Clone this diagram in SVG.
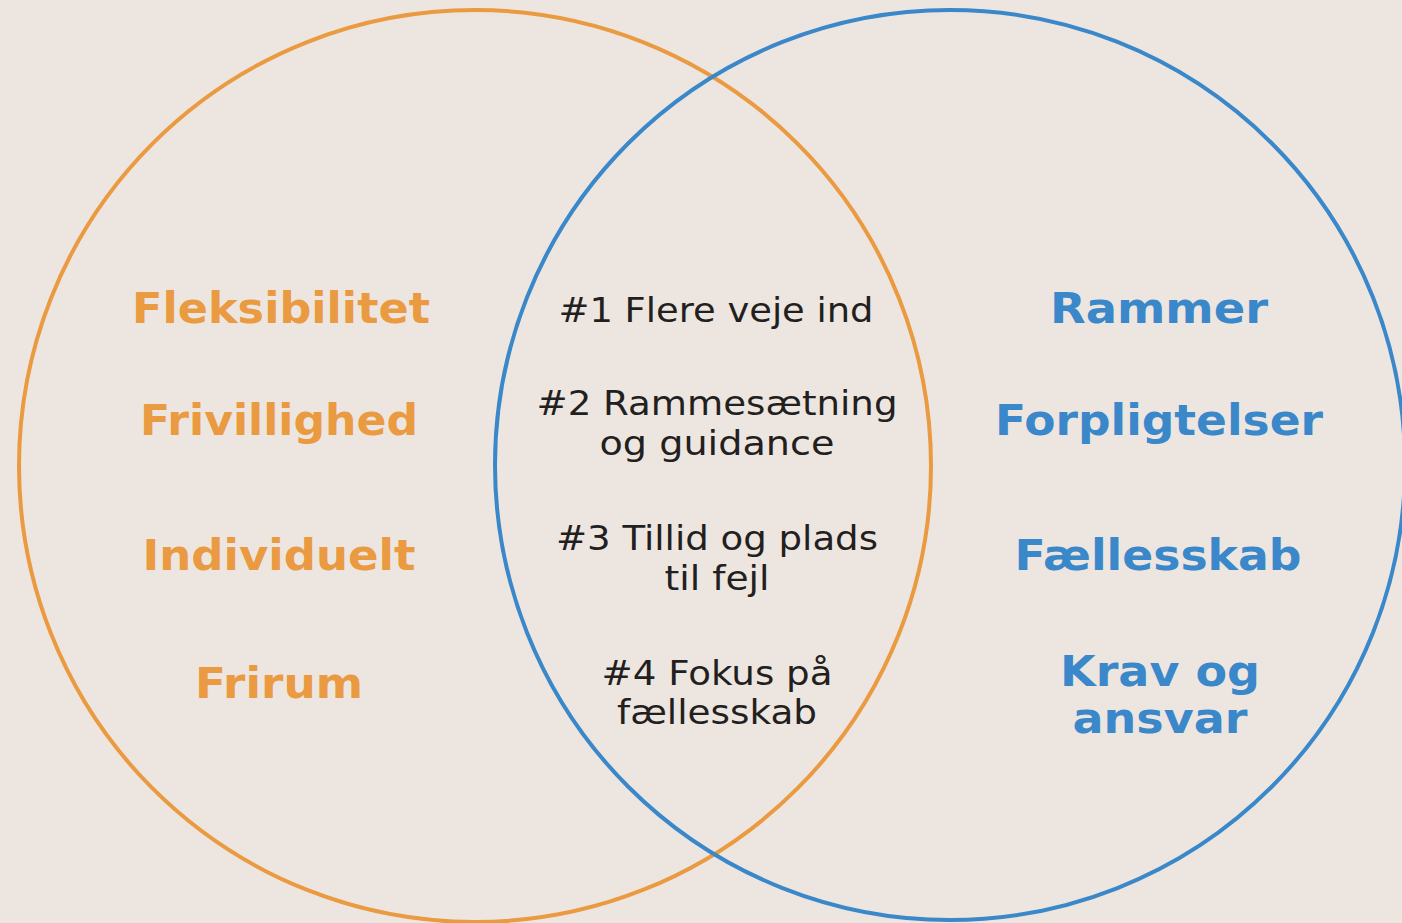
<svg xmlns="http://www.w3.org/2000/svg" width="1402" height="923" viewBox="0 0 1402 923">
<style>
.bg{fill:#EDE6E0}
.ring{fill:none;stroke-width:4}
.or{stroke:#EA9A40}
.bl{stroke:#3A88CA}
.lo{font-family:"DejaVu Sans","Liberation Sans",sans-serif;font-weight:bold;font-size:43px;fill:#EA9A40;text-anchor:middle}
.lb{font-family:"DejaVu Sans","Liberation Sans",sans-serif;font-weight:bold;font-size:43px;fill:#3A88CA;text-anchor:middle}
.mid{font-family:"DejaVu Sans","Liberation Sans",sans-serif;font-size:34px;fill:#231F1F;text-anchor:middle}
</style>
<rect class="bg" x="0" y="0" width="1402" height="923"/>
<g id="circle-left"><circle class="ring or" cx="475" cy="466" r="456"/></g>
<g id="circle-right"><circle class="ring bl" cx="950" cy="465" r="455"/></g>
<g id="left-labels">
<g id="fleksibilitet"><text class="lo" x="281" y="323" textLength="298" lengthAdjust="spacingAndGlyphs">Fleksibilitet</text></g>
<g id="frivillighed"><text class="lo" x="279" y="435" textLength="278" lengthAdjust="spacingAndGlyphs">Frivillighed</text></g>
<g id="individuelt"><text class="lo" x="279" y="570" textLength="273" lengthAdjust="spacingAndGlyphs">Individuelt</text></g>
<g id="frirum"><text class="lo" x="279" y="698" textLength="168" lengthAdjust="spacingAndGlyphs">Frirum</text></g>
</g>
<g id="middle-labels">
<g id="m1"><text class="mid" x="716" y="322" textLength="315" lengthAdjust="spacingAndGlyphs">#1 Flere veje ind</text></g>
<g id="m2"><text class="mid" x="717" y="415" textLength="361" lengthAdjust="spacingAndGlyphs">#2 Rammesætning</text><text class="mid" x="717" y="455" textLength="235" lengthAdjust="spacingAndGlyphs">og guidance</text></g>
<g id="m3"><text class="mid" x="717" y="550" textLength="322" lengthAdjust="spacingAndGlyphs">#3 Tillid og plads</text><text class="mid" x="717" y="590" textLength="105" lengthAdjust="spacingAndGlyphs">til fejl</text></g>
<g id="m4"><text class="mid" x="717" y="685" textLength="231" lengthAdjust="spacingAndGlyphs">#4 Fokus på</text><text class="mid" x="717" y="724" textLength="200" lengthAdjust="spacingAndGlyphs">fællesskab</text></g>
</g>
<g id="right-labels">
<g id="rammer"><text class="lb" x="1159" y="323" textLength="218" lengthAdjust="spacingAndGlyphs">Rammer</text></g>
<g id="forpligtelser"><text class="lb" x="1159" y="435" textLength="328" lengthAdjust="spacingAndGlyphs">Forpligtelser</text></g>
<g id="faellesskab"><text class="lb" x="1158" y="570" textLength="287" lengthAdjust="spacingAndGlyphs">Fællesskab</text></g>
<g id="krav"><text class="lb" x="1160" y="686" textLength="200" lengthAdjust="spacingAndGlyphs">Krav og</text><text class="lb" x="1160" y="733" textLength="175" lengthAdjust="spacingAndGlyphs">ansvar</text></g>
</g>
</svg>
